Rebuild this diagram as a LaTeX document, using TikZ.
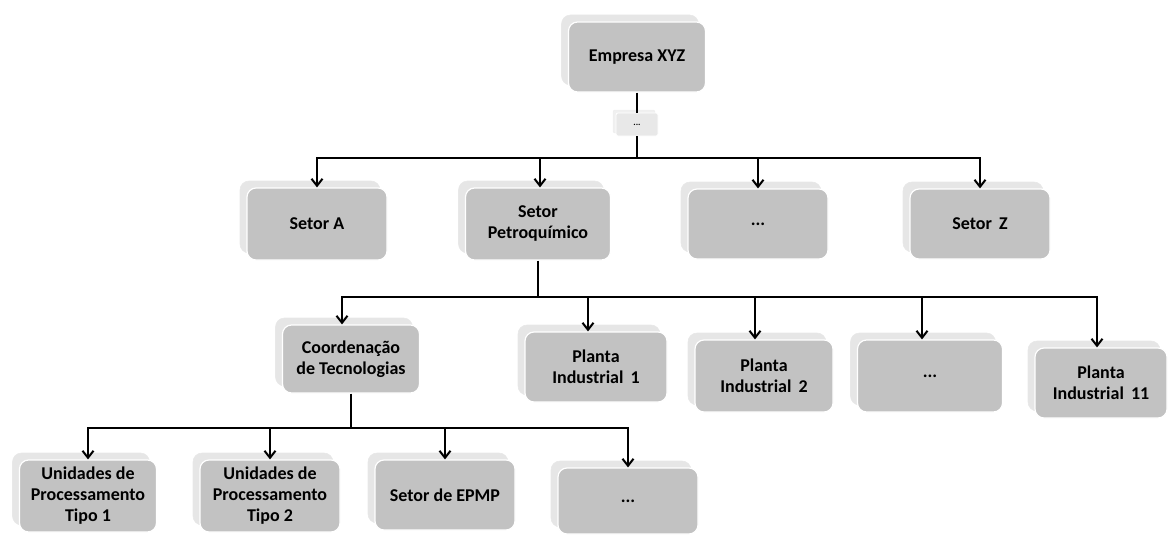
\documentclass[tikz,border=0pt]{standalone}
\usepackage{fontspec}
\setmainfont{Carlito}
\usetikzlibrary{arrows.meta,shadows}
\definecolor{boxgray}{HTML}{C2C2C2}
\definecolor{backgray}{HTML}{E6E6E6}
\begin{document}
\begin{tikzpicture}[x=1pt,y=-1pt,
  orgbox/.style={rounded corners=9pt, fill=boxgray, draw=white, line width=1.2pt,
    align=center, font=\fontsize{18}{21}\selectfont\bfseries, inner sep=2pt,
    copy shadow={shadow xshift=-7pt, shadow yshift=7pt, fill=backgray, draw=gray!18, line width=0.6pt}},
  smallbox/.style={rounded corners=2pt, fill=gray!18, draw=white, line width=0.8pt,
    font=\fontsize{9}{10}\selectfont\bfseries, inner sep=1pt,
    minimum width=42pt, minimum height=23pt,
    copy shadow={shadow xshift=-3pt, shadow yshift=3pt, fill=backgray!60, draw=gray!15, line width=0.4pt}},
  wh/.style 2 args={minimum width=#1pt, minimum height=#2pt},
  link/.style={line width=2pt, draw=black},
  arr/.style={link, -{Straight Barb[length=7pt,width=11pt]}}]
\useasboundingbox (0,0) rectangle (1169,535);

% level 0
\node[orgbox, wh={137}{70}] (emp) at (637,57) {Empresa XYZ};
\node[smallbox] (dots0) at (637,124.5) {...};

% level 1
\node[orgbox, wh={140}{72}] (sa) at (317,224) {Setor A};
\node[orgbox, wh={145}{72}] (sp) at (538,224) {Setor\\Petroquímico};
\node[orgbox, wh={140}{70}] (sd) at (758,224) {...};
\node[orgbox, wh={140}{70}] (sz) at (980,224) {Setor\, Z};

% level 2
\node[orgbox, wh={137}{68}] (coord) at (351,359) {Coordenação\\de Tecnologias};
\node[orgbox, wh={142}{70}] (p1) at (596,367) {Planta\\Industrial\, 1};
\node[orgbox, wh={138}{72}] (p2) at (764,376) {Planta\\Industrial\, 2};
\node[orgbox, wh={145}{72}] (pd) at (930,376) {...};
\node[orgbox, wh={132}{70}] (p11) at (1101,383) {Planta\\Industrial\, 11};

% level 3
\node[orgbox, wh={137}{72}] (u1) at (88,496) {Unidades de\\Processamento\\Tipo 1};
\node[orgbox, wh={140}{72}] (u2) at (270,496) {Unidades de\\Processamento\\Tipo 2};
\node[orgbox, wh={140}{70}] (epmp) at (445,495) {Setor de EPMP};
\node[orgbox, wh={140}{66}] (ud) at (628,501) {...};

% connectors level 0 -> 1
\coordinate (bus1) at (637,158);
\draw[link] (emp.south) -- (dots0.north);
\draw[link] (dots0.south) -- (bus1);
\draw[arr] (bus1) -| (sa.north);
\draw[arr] (bus1) -| ([xshift=2pt]sp.north);
\draw[arr] (bus1) -| (sd.north);
\draw[arr] (bus1) -| (sz.north);

% connectors level 1 -> 2
\coordinate (bus2) at (538,297);
\draw[link] (sp.south) -- (bus2);
\draw[arr] (bus2) -| ([xshift=-9pt]coord.north);
\draw[arr] (bus2) -| ([xshift=-8pt]p1.north);
\draw[arr] (bus2) -| ([xshift=-9pt]p2.north);
\draw[arr] (bus2) -| ([xshift=-8pt]pd.north);
\draw[arr] (bus2) -| ([xshift=-4pt]p11.north);

% connectors level 2 -> 3
\coordinate (bus3) at (351,428);
\draw[link] (coord.south) -- (bus3);
\draw[arr] (bus3) -| (u1.north);
\draw[arr] (bus3) -| (u2.north);
\draw[arr] (bus3) -| (epmp.north);
\draw[arr] (bus3) -| (ud.north);
\end{tikzpicture}
\end{document}
